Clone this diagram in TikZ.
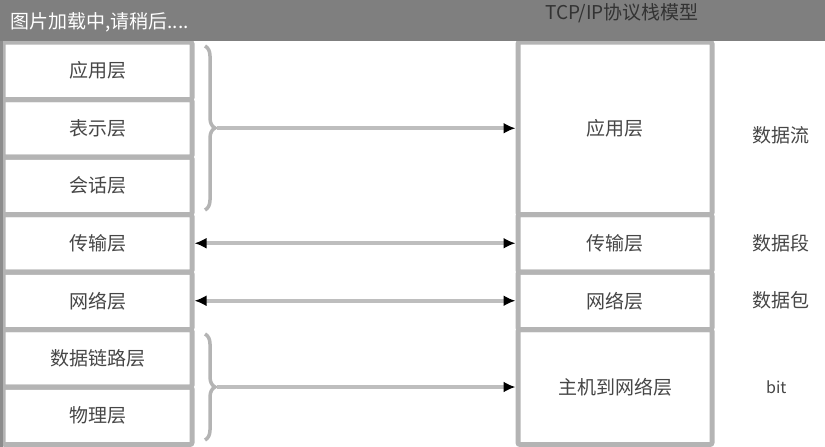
\documentclass[tikz,border=0pt]{standalone}
\usepackage{fontspec}
\newfontfamily\cjk{Noto Sans CJK SC}
\usetikzlibrary{decorations.pathreplacing,arrows.meta}
\definecolor{barg}{RGB}{127,127,127}
\definecolor{boxg}{RGB}{180,180,180}
\definecolor{lineg}{RGB}{190,190,190}
\definecolor{txtg}{RGB}{70,70,70}
\begin{document}
\begin{tikzpicture}[x=1pt,y=-1pt,
  layer/.style={draw=boxg, line width=5pt, rounded corners=2pt, inner sep=0pt,
    font=\cjk\fontsize{19}{19}\selectfont, text=txtg},
  lcol/.style={layer, minimum width=189pt, minimum height=57.5pt},
  rcol/.style={layer, minimum width=194pt},
  conn/.style={draw=lineg, line width=4pt},
  tip/.style={-{Latex[black,length=12pt,width=11pt]}},
  bitip/.style={{Latex[black,length=12pt,width=11pt]}-{Latex[black,length=12pt,width=11pt]}},
  lbl/.style={anchor=west, font=\cjk\fontsize{19}{19}\selectfont, text=txtg, inner sep=0pt},
  brc/.style={draw=boxg, line width=3.5pt, decorate, decoration={brace, amplitude=10pt}}
]
\useasboundingbox (0,0) rectangle (825,447);
\fill[white] (0,0) rectangle (825,447);
% left column (OSI)
\node[lcol] (L1) at (97.5,70.75) {应用层};
\node[lcol] (L2) at (97.5,128.25) {表示层};
\node[lcol] (L3) at (97.5,185.75) {会话层};
\node[lcol] (L4) at (97.5,243.25) {传输层};
\node[lcol] (L5) at (97.5,300.75) {网络层};
\node[lcol] (L6) at (97.5,358.25) {数据链路层};
\node[lcol] (L7) at (97.5,415.75) {物理层};
\draw[draw=black!45, line width=4pt] (L1.north west) -- (L7.south west);
% right column (TCP/IP)
\node[rcol, minimum height=172.5pt] (R1) at (615,128.25) {应用层};
\node[rcol, minimum height=57.5pt] (R2) at (615,243.25) {传输层};
\node[rcol, minimum height=57.5pt] (R3) at (615,300.75) {网络层};
\node[rcol, minimum height=115pt] (R4) at (615,387) {主机到网络层};
% braces
\draw[brc] (205,46) -- (205,210);
\coordinate (B1) at (217,128.25);
\draw[brc] (205,334) -- (205,440);
\coordinate (B2) at (217,387);
% connectors
\draw[conn, tip] (B1) -- (R1.west);
\draw[conn, bitip] (L4.east) -- (R2.west);
\draw[conn, bitip] (L5.east) -- (R3.west);
\draw[conn, tip] (B2) -- (R4.west);
% data unit labels
\node[lbl] (D1) at (752,135) {数据流};
\node[lbl] (D2) at (752,243.25) {数据段};
\node[lbl] (D3) at (752,300.75) {数据包};
\node[lbl, font=\cjk\fontsize{16}{16}\selectfont] (D4) at (766,387) {bit};
% overlay bar
\fill[barg] (0,0) rectangle (825,40.5);
\node[font=\cjk\fontsize{19}{19}\selectfont, text=black!80, inner sep=0pt] (T) at (622,13) {TCP/IP协议栈模型};
\node[anchor=west, font=\cjk\fontsize{19}{19}\selectfont, text=white, inner sep=0pt] (W) at (10,22) {图片加载中,请稍后....};
\end{tikzpicture}
\end{document}
